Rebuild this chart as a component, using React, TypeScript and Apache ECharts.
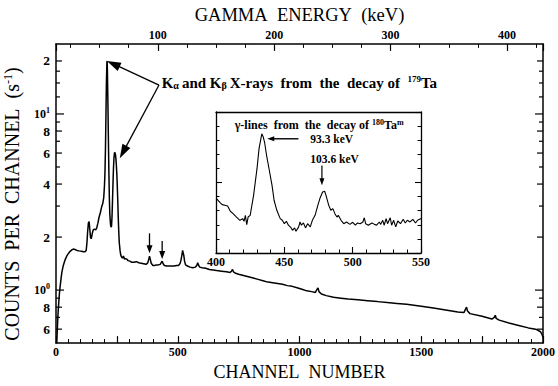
import React, { useEffect, useRef } from "react";
import * as echarts from "echarts";

const FONT = "'Liberation Serif', 'Times New Roman', 'DejaVu Serif', serif";
const W = 558;
const H = 386;

// ---- main spectrum (channel, counts per channel in s^-1) ----
const mainChannels = [
  3, 5, 8, 10, 13, 16, 20, 24, 30, 37, 45, 52, 58, 65, 71, 78, 86, 95, 105, 113, 119, 124, 127, 130, 133, 136, 139, 142,
  145, 149, 153, 158, 163, 167, 172, 177, 182, 187, 192, 196, 199, 201, 203, 205, 207, 209, 210, 211, 213, 215, 217, 219,
  221, 224, 226, 228, 230, 232, 234, 236, 238, 240, 242, 244, 246, 248, 250, 252, 254, 256, 258, 260, 263, 266, 269, 273,
  277, 281, 286, 290, 296, 303, 310, 320, 330, 340, 350, 360, 370, 377, 381, 384, 387, 391, 398, 405, 412, 420, 428, 432,
  436, 440, 445, 455, 465, 475, 485, 495, 503, 509, 513, 517, 520, 522, 525, 528, 532, 540, 550, 562, 572, 578, 582, 585,
  590, 600, 615, 630, 645, 660, 680, 700, 715, 721, 725, 729, 735, 750, 770, 790, 810, 830, 850, 870, 890, 910, 930, 950,
  970, 990, 1010, 1030, 1050, 1065, 1072, 1076, 1080, 1090, 1110, 1140, 1170, 1200, 1240, 1280, 1320, 1360, 1400, 1440,
  1470, 1500, 1550, 1600, 1650, 1675, 1682, 1686, 1690, 1700, 1750, 1790, 1800, 1804, 1808, 1820, 1860, 1900, 1940, 1970,
  1990, 1996, 2000,
];
const mainCounts = [
  0.5, 0.58, 0.72, 0.8, 0.92, 1.02, 1.14, 1.26, 1.38, 1.48, 1.57, 1.62, 1.66, 1.69, 1.71, 1.7, 1.68, 1.67, 1.66, 1.65, 1.65,
  1.68, 1.85, 2.15, 2.4, 2.45, 2.2, 1.98, 1.96, 2.1, 2.2, 2.22, 2.2, 2.25, 2.4, 2.6, 2.75, 2.95, 3.1, 3.35, 3.9, 4.6, 6.2, 9.5,
  15, 19.5, 20, 18, 12, 7.5, 4.8, 3.4, 2.7, 2.35, 2.28, 2.3, 2.6, 3.2, 4.0, 4.9, 5.6, 6.0, 6.05, 5.9, 5.6, 5.1, 4.5, 3.8, 3.1,
  2.5, 2.1, 1.85, 1.68, 1.58, 1.54, 1.52, 1.56, 1.5, 1.51, 1.5, 1.47, 1.46, 1.44, 1.44, 1.45, 1.43, 1.42, 1.41, 1.4, 1.43,
  1.5, 1.56, 1.5, 1.42, 1.38, 1.38, 1.39, 1.39, 1.4, 1.43, 1.46, 1.41, 1.38, 1.37, 1.37, 1.37, 1.37, 1.38, 1.38, 1.41, 1.47,
  1.58, 1.68, 1.69, 1.57, 1.46, 1.39, 1.37, 1.35, 1.34, 1.35, 1.38, 1.43, 1.39, 1.35, 1.34, 1.33, 1.31, 1.3, 1.29, 1.28,
  1.27, 1.26, 1.28, 1.31, 1.27, 1.25, 1.23, 1.21, 1.19, 1.17, 1.15, 1.13, 1.11, 1.1, 1.09, 1.08, 1.06, 1.05, 1.03, 1.01,
  0.99, 0.98, 0.97, 1.01, 1.03, 0.98, 0.95, 0.93, 0.91, 0.9, 0.89, 0.88, 0.87, 0.86, 0.85, 0.84, 0.83, 0.82, 0.81, 0.79,
  0.77, 0.75, 0.745, 0.78, 0.8, 0.76, 0.735, 0.71, 0.685, 0.7, 0.72, 0.69, 0.675, 0.65, 0.63, 0.61, 0.6, 0.58, 0.56, 0.54,
];

// ---- inset spectrum (channel, relative counts) ----
const insetChannels = [
  400, 401, 403, 404.5, 406.5, 408.5, 410.5, 412.5, 415, 417.5, 419.5, 420.5, 421.5, 422.5, 423.5, 425, 427.5, 430, 431.5,
  433.5, 434.5, 435.5, 437, 439, 441, 442.5, 444.5, 447, 448.5, 450, 451.5, 453, 455, 456, 457.5, 458.5, 460.5, 461.5, 462.5,
  464, 465.5, 467, 469, 470.5, 472.5, 474.5, 476, 478, 479.5, 480.5, 482.5, 484, 485.5, 487, 488.5, 489.5, 491.5, 493.5,
  495.5, 498, 500, 502, 503.5, 505.5, 507.5, 508.5, 509.5, 511.5, 514, 516, 517.5, 519.5, 520.5, 522, 523, 524.5, 525.5,
  527.5, 528.5, 530, 531.5, 533, 535, 537, 538.5, 540, 542, 544, 546, 547.5, 550,
];
const insetCounts = [
  3.85, 3.79, 3.57, 3.43, 3.38, 3.33, 2.96, 2.79, 2.55, 2.32, 2.44, 2.25, 2.67, 2.01, 2.55, 2.67, 4.09, 5.98, 7.4, 8.45, 8.25,
  7.87, 6.93, 5.87, 4.8, 3.74, 3.03, 2.44, 2.32, 2.08, 2.25, 1.97, 1.78, 1.61, 1.78, 1.54, 1.85, 2.2, 1.97, 2.13, 1.78, 2.08,
  1.85, 2.32, 2.67, 3.38, 3.86, 4.33, 4.38, 4.09, 3.38, 3.03, 3.15, 2.79, 2.55, 2.67, 2.32, 2.08, 2.2, 2.03, 2.18, 1.97, 2.13,
  2.08, 2.2, 2.5, 2.08, 1.97, 2.13, 2.03, 1.97, 2.2, 2.03, 2.32, 1.97, 2.44, 2.08, 2.5, 1.97, 2.32, 1.85, 2.27, 2.08, 2.39,
  2.13, 2.32, 2.2, 2.39, 2.13, 2.32, 2.44,
];

// ---- axes ----
const channelMin = 0;
const channelMax = 2000;
const energyAtChannelMin = 12.6; // keV at channel 0 (top axis)
const energyAtChannelMax = 430.9; // keV at channel 2000
const countsMin = 0.5;
const countsMax = 25;
// y-axis ticks, kind 1 = decade, 2 = labelled, 3 = minor
const yTickMajor = [1, 10];
const yTickLabelled = [0.6, 0.8, 2, 4, 6, 8, 20];
const yTickMinor = [0.7, 0.9, 3, 5, 7, 9, 12.5, 15, 17.5];
const yTickLabelText: Record<string, string> = {
  "0.6": "{n|6}", "0.8": "{n|8}", "1": "{a|10}{s|0}", "2": "{n|2}", "4": "{n|4}", "6": "{n|6}", "8": "{n|8}",
  "10": "{a|10}{s|1}", "20": "{n|2}",
};

// ---- annotations (data coordinates) ----
const kAlphaTip = [209, 20];
const kBetaTip = [262, 5.6];
const kVertex = [423, 14.6];
const kText = [434, 15.0];
const downArrowA = [[384, 2.1], [384, 1.62]];
const downArrowB = [[436, 1.9], [436, 1.5]];
const insetTitlePos = [475.5, 9.06];
const insetLabel933 = [469, 8.1];
const insetLabel1036 = [469, 6.7];
const insetArrowH = [[460.3, 8.1], [437.5, 8.1]];
const insetArrowV = [[477.5, 6.2], [477.5, 4.8]];

function arrowEls(p0: number[], p1: number[], headLen: number, headW: number, lw: number) {
  const dx = p1[0] - p0[0];
  const dy = p1[1] - p0[1];
  const L = Math.hypot(dx, dy) || 1;
  const ux = dx / L;
  const uy = dy / L;
  const bx = p1[0] - ux * headLen;
  const by = p1[1] - uy * headLen;
  const nx = -uy;
  const ny = ux;
  return [
    { type: "line", silent: true, z: 50, shape: { x1: p0[0], y1: p0[1], x2: bx + ux, y2: by + uy }, style: { stroke: "#000", lineWidth: lw } },
    {
      type: "polygon", silent: true, z: 50,
      shape: { points: [[p1[0], p1[1]], [bx + (nx * headW) / 2, by + (ny * headW) / 2], [bx - (nx * headW) / 2, by - (ny * headW) / 2]] },
      style: { fill: "#000" },
    },
  ];
}

function tok(size: number, bold: boolean, padding?: number[]) {
  const t: any = { fontFamily: FONT, fontSize: size, fontWeight: bold ? "bold" : "normal", fill: "#000", color: "#000" };
  if (padding) t.padding = padding;
  return t;
}

const axisLineStyle = { color: "#000", width: 1.5 };
const tickLabel = { fontFamily: FONT, fontWeight: "bold" as const, fontSize: 12, color: "#000" };

export default function App() {
  const ref = useRef<HTMLDivElement>(null);
  useEffect(() => {
    if (!ref.current) return;
    const chart = echarts.init(ref.current, undefined, { renderer: "svg" });
    const mainData = mainChannels.map((c, i) => [c, mainCounts[i]]);
    const insetData = insetChannels.map((c, i) => [c, insetCounts[i]]);
    const yTicks = [
      ...yTickMajor.map((v) => [v, 1]),
      ...yTickLabelled.map((v) => [v, 2]),
      ...yTickMinor.map((v) => [v, 3]),
    ];

    const option: any = {
      animation: false,
      backgroundColor: "#fff",
      grid: [
        { left: 56, right: 13, top: 38, bottom: 40, show: false },
        { left: 216, top: 112, width: 205, height: 141, show: true, backgroundColor: "#fff", borderWidth: 0 },
      ],
      xAxis: [
        {
          gridIndex: 0, type: "value", position: "bottom", min: channelMin, max: channelMax, interval: 250,
          axisLine: { show: true, onZero: false, lineStyle: axisLineStyle },
          axisTick: { show: true, inside: true, length: 7, lineStyle: { color: "#000", width: 1.2 } },
          minorTick: { show: true, splitNumber: 5, length: 4, lineStyle: { color: "#000", width: 1 } },
          axisLabel: { ...tickLabel, margin: 3, formatter: (v: number) => (v % 500 === 0 ? String(v) : "") },
          splitLine: { show: false },
          name: "CHANNEL\u00a0 NUMBER", nameLocation: "middle", nameGap: 17,
          nameTextStyle: { fontFamily: FONT, fontSize: 18, color: "#000", verticalAlign: "top" },
        },
        {
          gridIndex: 0, type: "value", position: "top", min: energyAtChannelMin, max: energyAtChannelMax,
          splitNumber: 4, minInterval: 100, maxInterval: 100,
          axisLine: { show: true, onZero: false, lineStyle: axisLineStyle },
          axisTick: { show: true, inside: true, length: 7, lineStyle: { color: "#000", width: 1.2 } },
          minorTick: { show: true, splitNumber: 4, length: 4, lineStyle: { color: "#000", width: 1 } },
          axisLabel: { ...tickLabel, margin: 3, formatter: (v: number) => (Math.abs(v % 100) < 1e-6 && v > 0 ? String(v) : "") },
          splitLine: { show: false },
          name: "GAMMA\u00a0 ENERGY\u00a0 (keV)", nameLocation: "middle", nameGap: 16,
          nameTextStyle: { fontFamily: FONT, fontSize: 18.5, color: "#000", verticalAlign: "bottom" },
        },
        {
          gridIndex: 1, type: "value", position: "bottom", min: 400, max: 550, interval: 50,
          axisLine: { show: true, onZero: false, lineStyle: { color: "#000", width: 1.3 } },
          axisTick: { show: true, inside: true, length: 6, lineStyle: { color: "#000", width: 1.1 } },
          minorTick: { show: true, splitNumber: 5, length: 3.5, lineStyle: { color: "#000", width: 1 } },
          axisLabel: { ...tickLabel, margin: 3 },
          splitLine: { show: false },
        },
        {
          gridIndex: 1, type: "value", position: "top", min: 400, max: 550,
          axisLine: { show: true, onZero: false, lineStyle: { color: "#000", width: 1.3 } },
          axisTick: { show: false }, axisLabel: { show: false }, splitLine: { show: false },
        },
      ],
      yAxis: [
        {
          gridIndex: 0, type: "log", position: "left", min: countsMin, max: countsMax,
          axisLine: { show: true, onZero: false, lineStyle: axisLineStyle },
          axisTick: { show: false }, axisLabel: { show: false }, splitLine: { show: false },
        },
        {
          gridIndex: 0, type: "log", position: "right", min: countsMin, max: countsMax,
          axisLine: { show: true, onZero: false, lineStyle: axisLineStyle },
          axisTick: { show: false }, axisLabel: { show: false }, splitLine: { show: false },
        },
        {
          gridIndex: 1, type: "value", position: "left", min: 0, max: 10, interval: 5,
          axisLine: { show: true, onZero: false, lineStyle: { color: "#000", width: 1.3 } },
          axisTick: { show: true, inside: true, length: 6, lineStyle: { color: "#000", width: 1.1 } },
          minorTick: { show: true, splitNumber: 5, length: 3.5, lineStyle: { color: "#000", width: 1 } },
          axisLabel: { show: false }, splitLine: { show: false },
        },
        {
          gridIndex: 1, type: "value", position: "right", min: 0, max: 10, interval: 5,
          axisLine: { show: true, onZero: false, lineStyle: { color: "#000", width: 1.3 } },
          axisTick: { show: true, inside: true, length: 6, lineStyle: { color: "#000", width: 1.1 } },
          minorTick: { show: true, splitNumber: 5, length: 3.5, lineStyle: { color: "#000", width: 1 } },
          axisLabel: { show: false }, splitLine: { show: false },
        },
      ],
      series: [
        {
          type: "line", xAxisIndex: 0, yAxisIndex: 0, data: mainData, showSymbol: false, symbol: "none",
          lineStyle: { color: "#000", width: 1.5 }, z: 3, clip: true,
        },
        {
          type: "custom", xAxisIndex: 0, yAxisIndex: 0, data: yTicks, encode: { x: 1, y: 0 }, clip: false, z: 4,
          renderItem: (_p: any, api: any) => {
            const v = api.value(0);
            const kind = api.value(1);
            const l = api.coord([channelMin, v]);
            const r = api.coord([channelMax, v]);
            const len = kind === 1 ? 8 : kind === 2 ? 6 : 4;
            const ls = { stroke: "#000", lineWidth: 1.2 };
            const children: any[] = [
              { type: "line", shape: { x1: l[0], y1: l[1], x2: l[0] + len, y2: l[1] }, style: ls },
              { type: "line", shape: { x1: r[0], y1: r[1], x2: r[0] - len, y2: r[1] }, style: ls },
            ];
            const txt = yTickLabelText[String(v)];
            if (txt) {
              children.push({
                type: "text", x: l[0] - 6, y: l[1],
                style: {
                  text: txt, align: "right", verticalAlign: "middle", fill: "#000",
                  fontFamily: FONT, fontSize: 13, fontWeight: "bold",
                  rich: { n: tok(13.5, true), a: tok(12, true), s: tok(8, true, [0, 0, 7, 0]) },
                },
              });
            }
            return { type: "group", children };
          },
        },
        {
          type: "line", xAxisIndex: 2, yAxisIndex: 2, data: insetData, showSymbol: false, symbol: "none",
          lineStyle: { color: "#000", width: 1.1 }, z: 6,
        },
      ],
    };
    chart.setOption(option);

    const P = (d: number[]) => chart.convertToPixel({ xAxisIndex: 0, yAxisIndex: 0 }, d) as number[];
    const Q = (d: number[]) => chart.convertToPixel({ xAxisIndex: 2, yAxisIndex: 2 }, d) as number[];
    const vtx = P(kVertex);
    const txt = P(kText);
    const it = Q(insetTitlePos);
    const l1 = Q(insetLabel933);
    const l2 = Q(insetLabel1036);
    const graphic: any[] = [
      ...arrowEls(vtx, P(kAlphaTip), 14, 9, 1.3),
      ...arrowEls(vtx, P(kBetaTip), 14, 9, 1.3),
      ...arrowEls(P(downArrowA[0]), P(downArrowA[1]), 8, 6, 1.3),
      ...arrowEls(P(downArrowB[0]), P(downArrowB[1]), 8, 6, 1.3),
      ...arrowEls(Q(insetArrowH[0]), Q(insetArrowH[1]), 7, 5, 1.4),
      ...arrowEls(Q(insetArrowV[0]), Q(insetArrowV[1]), 7, 5, 1.2),
      {
        type: "text", x: txt[0], y: txt[1], z: 50, silent: true,
        style: {
          text: "{t|K}{sub|\u03b1}{t|and K}{sub|\u03b2}{t|X-rays\u00a0 from\u00a0 the\u00a0 decay of\u00a0 }{sup|179}{t|Ta}",
          verticalAlign: "middle", align: "left", fill: "#000",
          fontFamily: FONT, fontSize: 15, fontWeight: "bold",
          rich: { t: tok(15, true), sub: tok(10, true, [6, 3, 0, 0]), sup: tok(9, true, [0, 0, 7, 0]) },
        },
      },
      {
        type: "text", x: it[0], y: it[1], z: 50, silent: true,
        style: {
          text: "{t|\u03b3-lines\u00a0 from\u00a0 the\u00a0 decay of }{sup|180}{t|Ta}{sup|m}",
          verticalAlign: "middle", align: "center", fill: "#000",
          fontFamily: FONT, fontSize: 12, fontWeight: "bold",
          rich: { t: tok(12, true), sup: tok(8, true, [0, 0, 5, 0]) },
        },
      },
      {
        type: "text", x: l1[0], y: l1[1], z: 50, silent: true,
        style: { text: "93.3 keV", fontFamily: FONT, fontSize: 11.5, fontWeight: "bold", fill: "#000", verticalAlign: "middle", align: "left" },
      },
      {
        type: "text", x: l2[0], y: l2[1], z: 50, silent: true,
        style: { text: "103.6 keV", fontFamily: FONT, fontSize: 11.5, fontWeight: "bold", fill: "#000", verticalAlign: "middle", align: "left" },
      },
      {
        type: "text", x: 12, y: 204, rotation: Math.PI / 2, z: 50, silent: true,
        style: {
          text: "{t|COUNTS\u00a0 PER\u00a0 CHANNEL\u00a0 (s}{sup|-1}{t|)}",
          align: "center", verticalAlign: "middle", fill: "#000",
          fontFamily: FONT, fontSize: 20,
          rich: { t: tok(20, false), sup: tok(12, false, [0, 0, 8, 0]) },
        },
      },
    ];
    chart.setOption({ graphic });
    return () => chart.dispose();
  }, []);
  return <div ref={ref} style={{ position: "fixed", left: 0, top: 0, width: W, height: H }} />;
}
